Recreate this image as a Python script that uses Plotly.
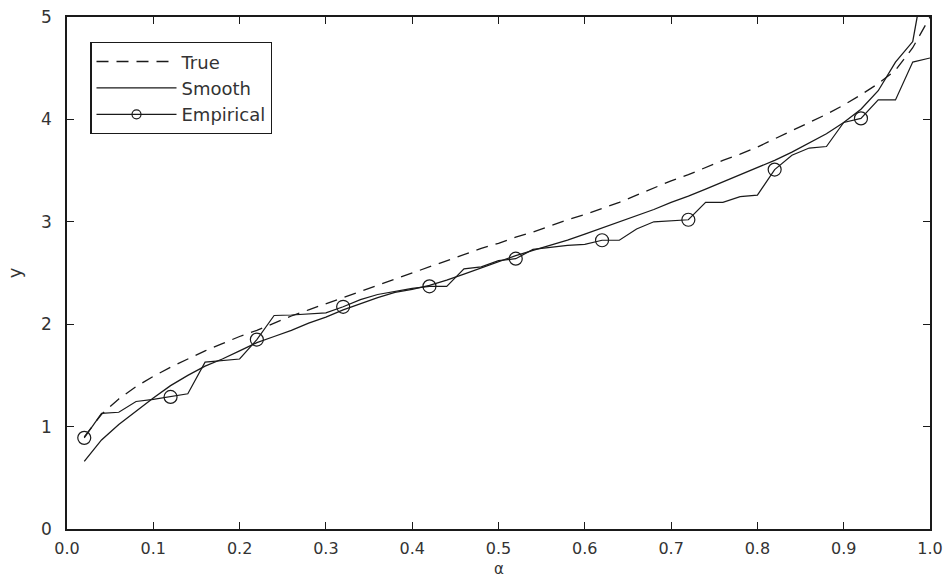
import plotly.graph_objects as go

alpha = [0.02, 0.04, 0.06, 0.08, 0.10, 0.12, 0.14, 0.16, 0.18, 0.20,
         0.22, 0.24, 0.26, 0.28, 0.30, 0.32, 0.34, 0.36, 0.38, 0.40,
         0.42, 0.44, 0.46, 0.48, 0.50, 0.52, 0.54, 0.56, 0.58, 0.60,
         0.62, 0.64, 0.66, 0.68, 0.70, 0.72, 0.74, 0.76, 0.78, 0.80,
         0.82, 0.84, 0.86, 0.88, 0.90, 0.92, 0.94, 0.96, 0.98, 1.00]

true_vals = [0.90, 1.12, 1.27, 1.39, 1.49, 1.58, 1.66, 1.74, 1.81, 1.88,
             1.94, 2.01, 2.08, 2.14, 2.20, 2.26, 2.32, 2.38, 2.44, 2.50,
             2.56, 2.62, 2.68, 2.74, 2.79, 2.85, 2.90, 2.96, 3.02, 3.07,
             3.13, 3.19, 3.26, 3.33, 3.40, 3.46, 3.53, 3.60, 3.66, 3.73,
             3.81, 3.89, 3.97, 4.05, 4.14, 4.24, 4.35, 4.48, 4.70, 5.00]

smooth_vals = [0.66, 0.87, 1.02, 1.15, 1.28, 1.40, 1.50, 1.59, 1.66, 1.74,
               1.82, 1.88, 1.94, 2.01, 2.07, 2.14, 2.20, 2.26, 2.31, 2.34,
               2.38, 2.43, 2.49, 2.55, 2.61, 2.67, 2.72, 2.77, 2.82, 2.88,
               2.94, 3.00, 3.06, 3.12, 3.19, 3.25, 3.32, 3.39, 3.46, 3.53,
               3.60, 3.68, 3.77, 3.86, 3.97, 4.10, 4.28, 4.56, 4.76, 5.70]

empirical_vals = [0.89, 1.13, 1.14, 1.245, 1.265, 1.29, 1.32, 1.63, 1.645, 1.66,
                  1.85, 2.085, 2.09, 2.10, 2.11, 2.17, 2.24, 2.29, 2.32, 2.35,
                  2.37, 2.37, 2.54, 2.56, 2.62, 2.64, 2.73, 2.75, 2.77, 2.78,
                  2.82, 2.82, 2.93, 3.00, 3.01, 3.02, 3.19, 3.19, 3.245, 3.26,
                  3.51, 3.65, 3.72, 3.735, 3.97, 4.01, 4.19, 4.19, 4.56, 4.60]

marker_step = 5  # circles on every 5th empirical point (0.02, 0.12, ...)

x_ticks = [0.0, 0.1, 0.2, 0.3, 0.4, 0.5, 0.6, 0.7, 0.8, 0.9, 1.0]
x_ticklabels = ["0.0", "0.1", "0.2", "0.3", "0.4", "0.5", "0.6", "0.7", "0.8", "0.9", "1.0"]
y_ticks = [0, 1, 2, 3, 4, 5]
y_ticklabels = ["0", "1", "2", "3", "4", "5"]
x_title = "α"
y_title = "y"

FONT = "DejaVu Sans"
INK = "#1a1a1a"
TXT = "#333333"

fig = go.Figure()
fig.add_trace(go.Scatter(x=alpha, y=true_vals, mode="lines", name="True",
                         line=dict(color=INK, width=1.3, dash="12px,8px")))
fig.add_trace(go.Scatter(x=alpha, y=smooth_vals, mode="lines", name="Smooth",
                         line=dict(color=INK, width=1.3)))
fig.add_trace(go.Scatter(x=alpha, y=empirical_vals, mode="lines", name="Empirical",
                         showlegend=False, line=dict(color=INK, width=1.2)))
fig.add_trace(go.Scatter(x=alpha[::marker_step], y=empirical_vals[::marker_step],
                         mode="markers", showlegend=False,
                         marker=dict(symbol="circle-open", size=13,
                                     color=INK, line=dict(width=1.2, color=INK))))
# legend entry for empirical (line with circle)
fig.add_trace(go.Scatter(x=[None], y=[None], mode="lines+markers", name="Empirical",
                         line=dict(color=INK, width=1.2),
                         marker=dict(symbol="circle-open", size=9, color=INK,
                                     line=dict(width=1.2, color=INK))))

axis_common = dict(showgrid=False, zeroline=False, showline=True, linecolor=INK,
                   linewidth=1.6, mirror="ticks", ticks="inside", ticklen=7,
                   tickwidth=1.2, tickcolor=INK, automargin=False)

fig.update_xaxes(range=[0, 1], tickvals=x_ticks, ticktext=x_ticklabels,
                 ticklabelstandoff=4,
                 tickfont=dict(family=FONT, size=16, color=TXT), **axis_common)
fig.update_yaxes(range=[0, 5], tickvals=y_ticks, ticktext=y_ticklabels,
                 ticklabelstandoff=10,
                 tickfont=dict(family=FONT, size=17, color=TXT),
                 title=dict(text=y_title, font=dict(family=FONT, size=18, color=TXT)),
                 **axis_common)

# x-axis title placed just below the tick labels
fig.add_annotation(text=x_title, xref="paper", yref="paper", x=0.5, y=0,
                   xanchor="center", yanchor="top", yshift=-29, showarrow=False,
                   font=dict(family=FONT, size=15, color=TXT))

fig.update_layout(
    width=947, height=578,
    margin=dict(l=67, r=17, t=17, b=49),
    plot_bgcolor="white", paper_bgcolor="white",
    legend=dict(x=0.027, y=0.951, xanchor="left", yanchor="top",
                bordercolor=INK, borderwidth=1.2, bgcolor="white",
                itemwidth=80, tracegroupgap=0,
                font=dict(family=FONT, size=18, color=TXT)),
)

fig.write_html("out.html")
